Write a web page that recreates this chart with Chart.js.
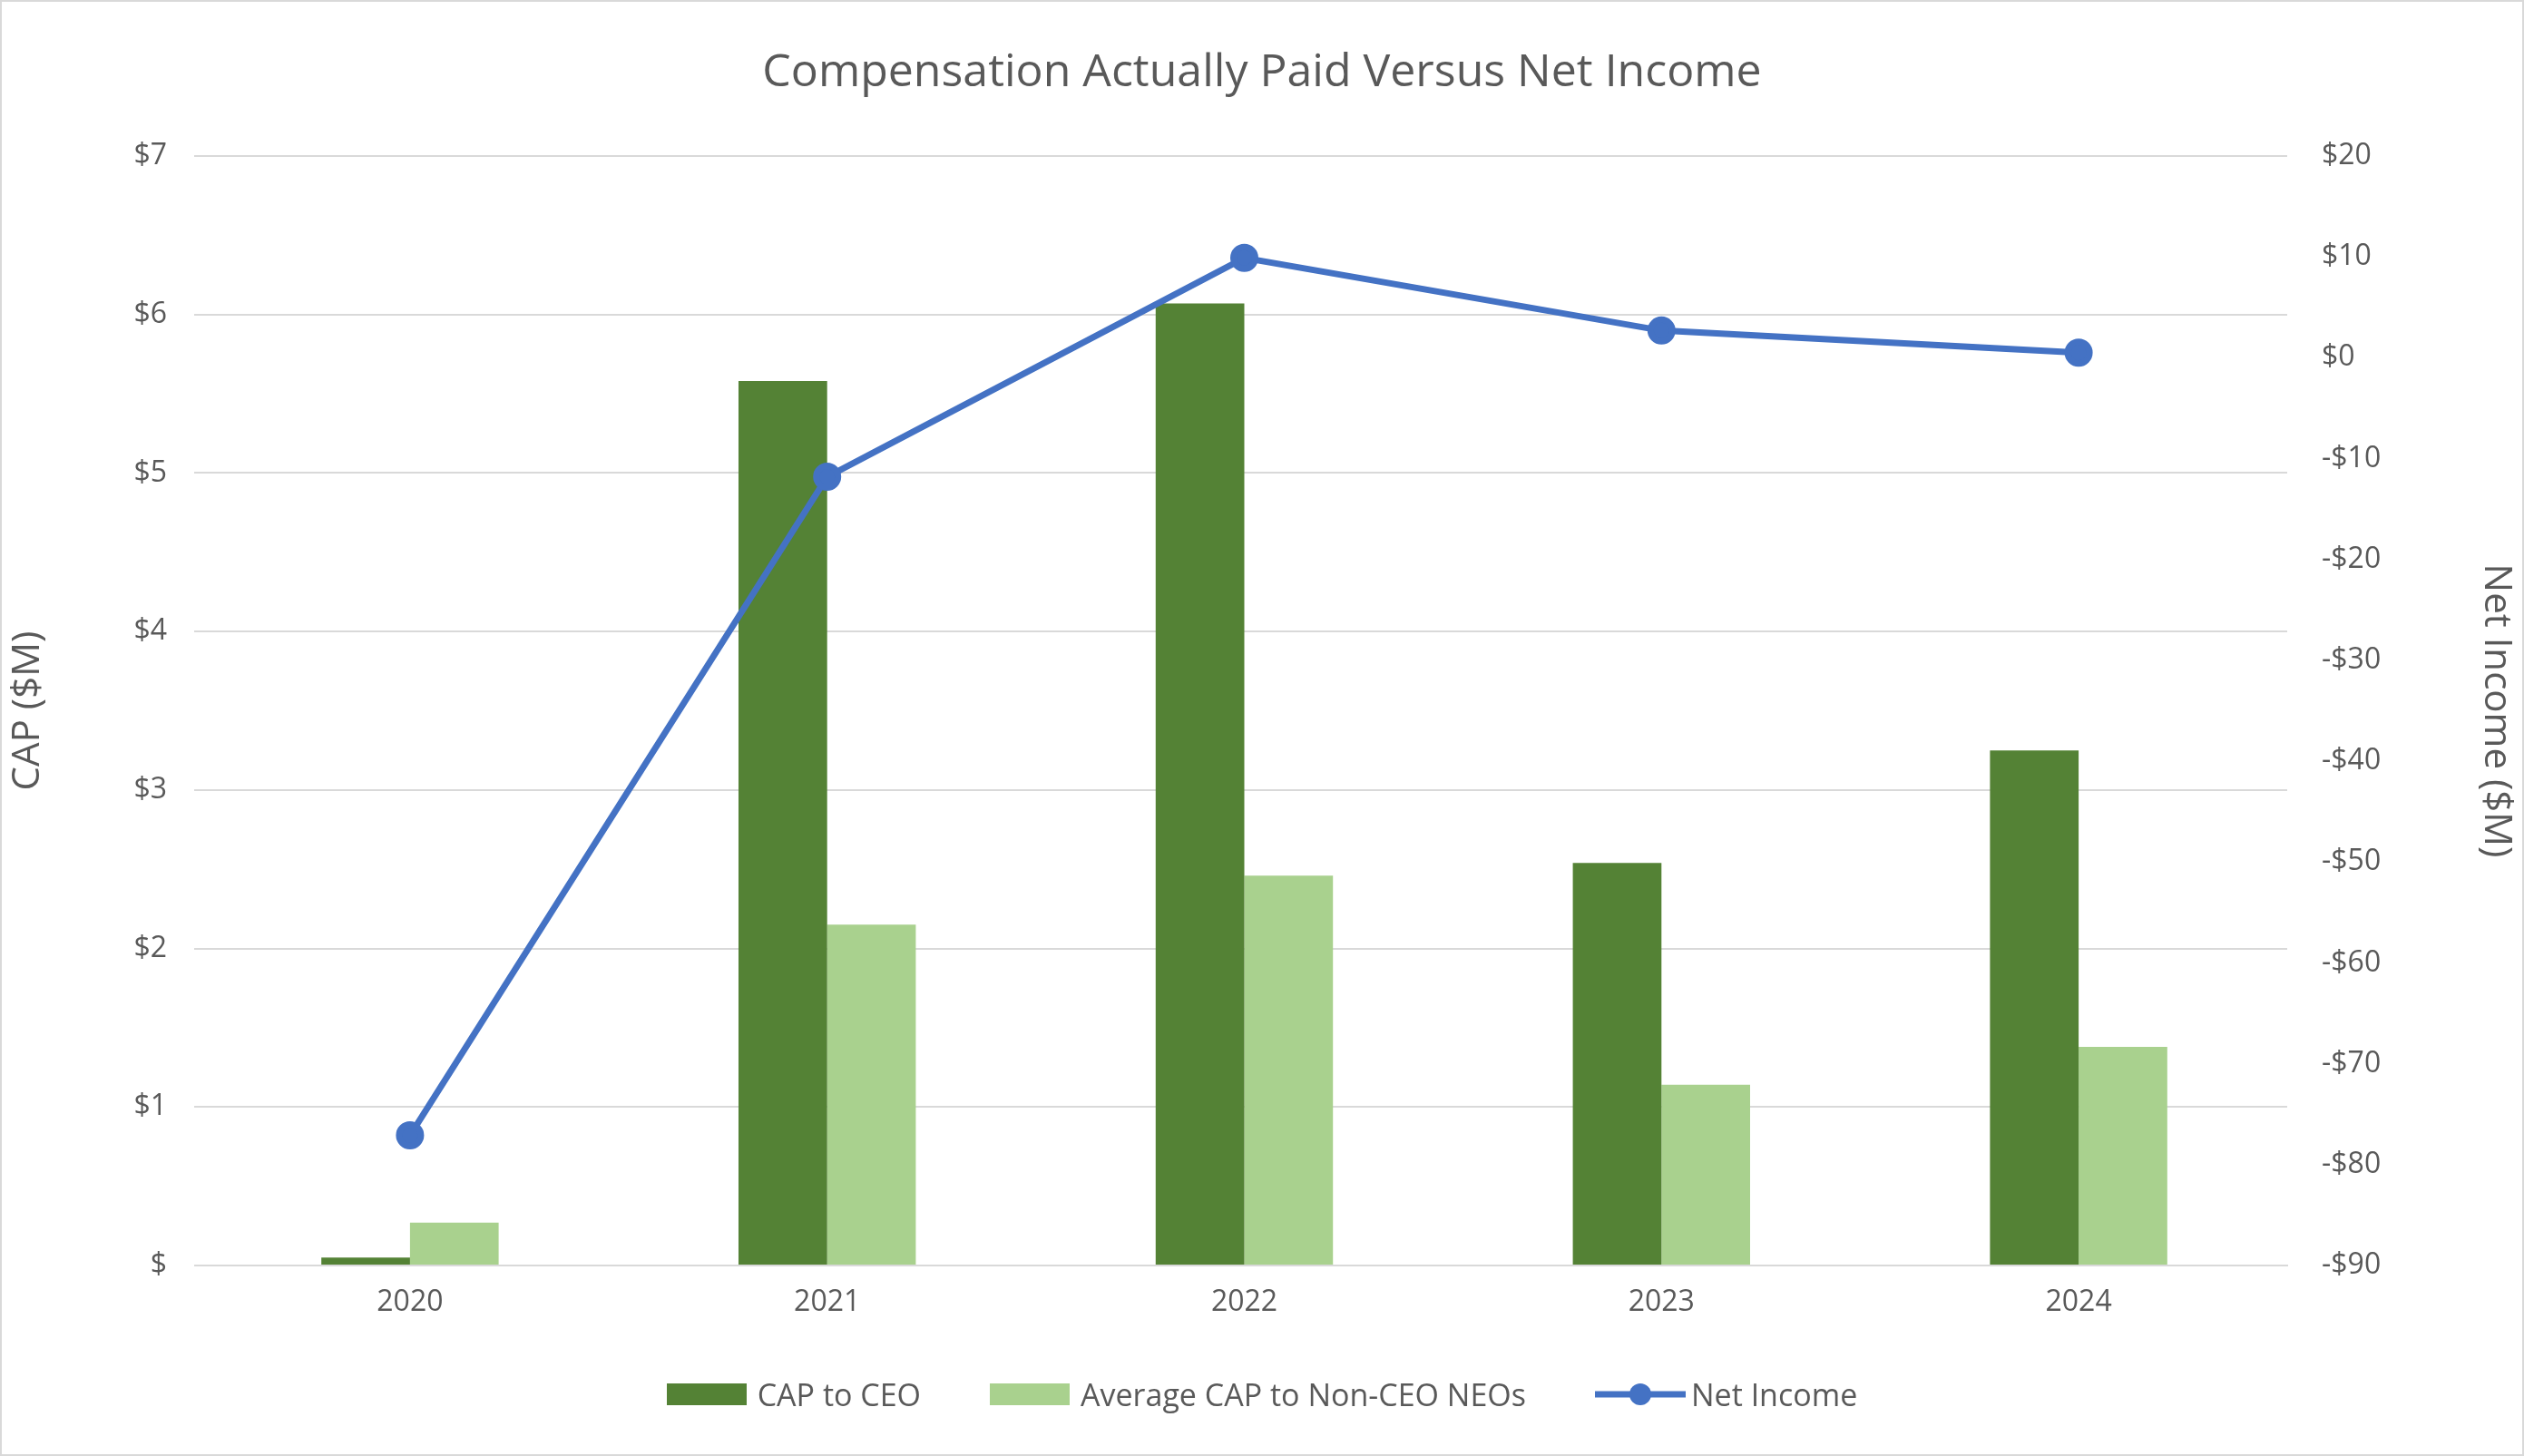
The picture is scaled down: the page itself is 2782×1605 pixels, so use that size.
<!DOCTYPE html>
<html><head><meta charset="utf-8">
<script src="https://cdn.jsdelivr.net/npm/chart.js@4"></script>
<style>
html,body{margin:0;padding:0;background:#fff;}
#wrap{position:relative;width:2782px;height:1605px;box-sizing:border-box;border:2px solid #d9d9d9;font-family:"Open Sans",sans-serif;}
#title{position:absolute;top:40px;left:0;width:100%;text-align:center;font-size:50px;color:#595959;}
#legend{position:absolute;top:1512px;left:0;width:100%;display:flex;justify-content:center;align-items:center;font-size:34px;color:#595959;}
.it{display:flex;align-items:center;margin:0 38px;}
.box{width:88px;height:24px;margin-right:12px;}
canvas{position:absolute;left:0;top:0;}
</style></head><body>
<div id="wrap">
<canvas id="c" width="2778" height="1601"></canvas>
<div id="title">Compensation Actually Paid Versus Net Income</div>
<div id="legend">
<div class="it"><div class="box" style="background:#548235"></div>CAP to CEO</div>
<div class="it"><div class="box" style="background:#A9D18E"></div>Average CAP to Non-CEO NEOs</div>
<div class="it"><svg width="100" height="30" style="margin-right:6px"><line x1="0" y1="15" x2="100" y2="15" stroke="#4472C4" stroke-width="7"/><circle cx="50" cy="15" r="12" fill="#4472C4"/></svg>Net Income</div>
</div>
</div>
<script>
const years=["2020","2021","2022","2023","2024"];
const capCEO=[0.05,5.58,6.07,2.54,3.25];
const capNEO=[0.27,2.15,2.46,1.14,1.38];
const netIncome=[-77.1,-11.8,9.9,2.7,0.5];
const tickFont={family:"Open Sans",size:32};
new Chart(document.getElementById('c'),{
 type:'bar',
 data:{labels:years,datasets:[
  {type:'line',label:'Net Income',data:netIncome,yAxisID:'y2',borderColor:'#4472C4',backgroundColor:'#4472C4',borderWidth:7,pointRadius:12,pointHoverRadius:12,order:0},
  {label:'CAP to CEO',data:capCEO,backgroundColor:'#548235',yAxisID:'y',categoryPercentage:0.425,barPercentage:1,order:1},
  {label:'Average CAP to Non-CEO NEOs',data:capNEO,backgroundColor:'#A9D18E',yAxisID:'y',categoryPercentage:0.425,barPercentage:1,order:1}
 ]},
 options:{responsive:false,animation:false,
  layout:{padding:{top:170,bottom:0,left:0,right:0}},
  plugins:{legend:{display:false},title:{display:false},tooltip:{enabled:false}},
  scales:{
   x:{grid:{display:false},border:{color:'#d9d9d9',width:2},ticks:{color:'#595959',font:tickFont,padding:14},
      afterFit:s=>{s.height=208;}},
   y:{position:'left',min:0,max:7,ticks:{stepSize:1,color:'#595959',font:tickFont,padding:30,callback:v=>v===0?'$':'$'+v},
      grid:{color:'#d9d9d9',lineWidth:2},border:{display:false},
      title:{display:true,text:'CAP ($M)',color:'#595959',font:{family:"Open Sans",size:42}},
      afterFit:s=>{s.width=220;}},
   y2:{position:'right',min:-90,max:20,ticks:{stepSize:10,color:'#595959',font:tickFont,padding:30,callback:v=>(v<0?'-$'+(-v):'$'+v)},
      grid:{display:false},border:{display:false},
      title:{display:true,text:'Net Income ($M)',color:'#595959',font:{family:"Open Sans",size:42}},
      afterFit:s=>{s.width=259;}}
  }}
});
</script>
</body></html>
